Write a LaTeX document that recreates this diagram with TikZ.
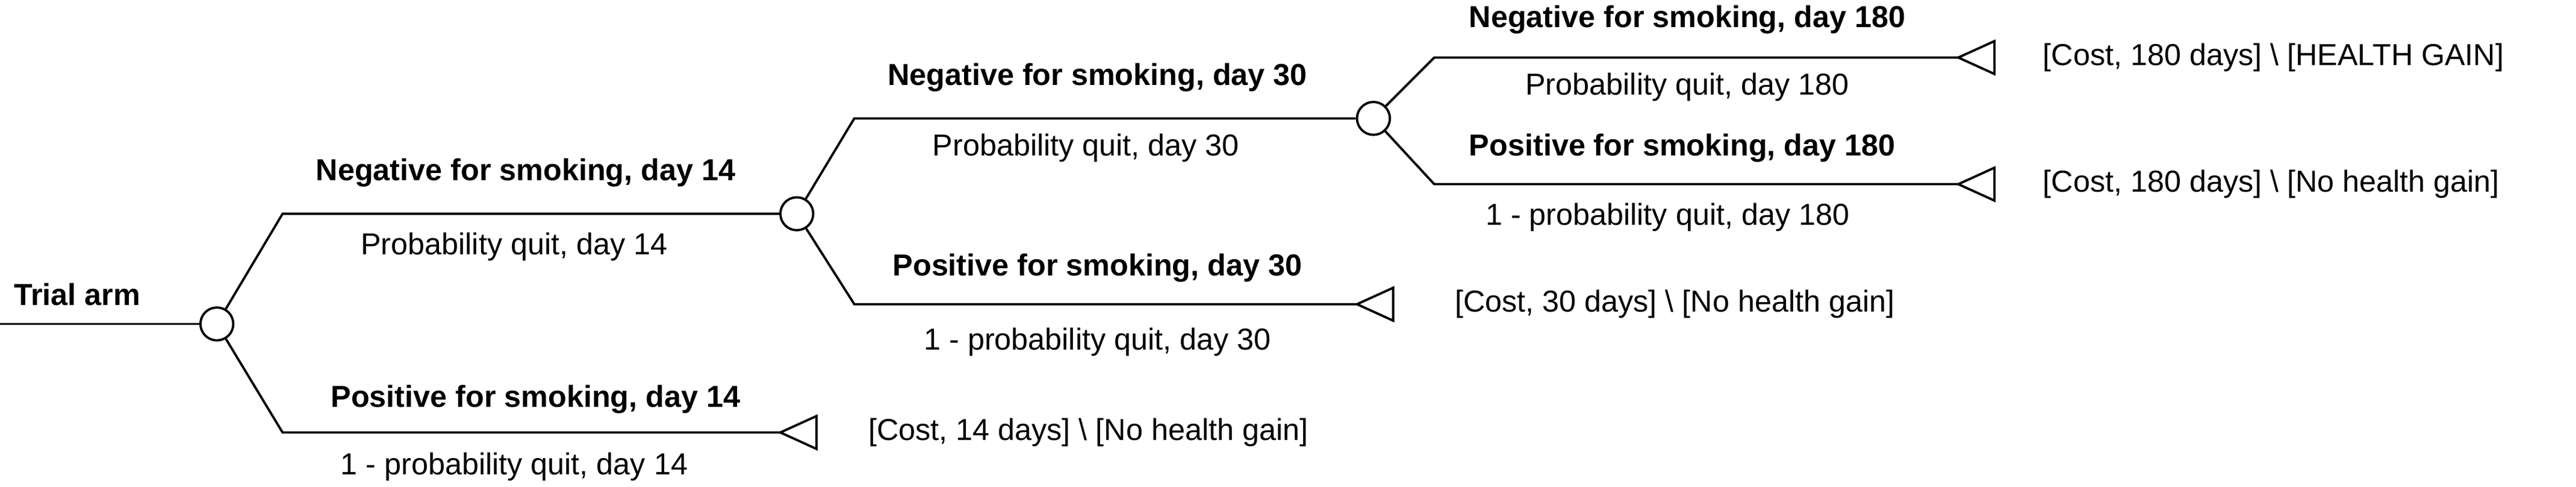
\documentclass[tikz,border=0pt]{standalone}
\usepackage{fontspec}
\setmainfont{Liberation Sans}
\tikzset{
  chance/.style={circle,draw,line width=0.8pt,minimum size=0.4cm,inner sep=0pt},
  lbl/.style={font=\fontsize{10.5}{12}\selectfont\bfseries},
  prob/.style={font=\fontsize{10.5}{12}\selectfont},
  payoff/.style={font=\fontsize{10.5}{12}\selectfont,anchor=west},
}
\newcommand{\term}[1]{\draw[line width=0.8pt] (#1) -- ++(22,-10) -- ++(0,20) -- cycle;}
\begin{document}
\begin{tikzpicture}[x=0.02cm,y=-0.02cm,line width=0.8pt]
  \useasboundingbox (0,0) rectangle (1568,296);
  \coordinate (root) at (0,197);
  \node[chance] (c1) at (132,197) {};
  \node[chance] (c2) at (485,130) {};
  \node[chance] (c3) at (836,72) {};
  \coordinate (k1) at (172,130);
  \coordinate (k2) at (172,263);
  \coordinate (t2) at (475,263);
  \coordinate (k3) at (520,72);
  \coordinate (k4) at (520,185);
  \coordinate (t4) at (826,185);
  \coordinate (k5) at (873,35);
  \coordinate (t5) at (1192,35);
  \coordinate (k6) at (873,112);
  \coordinate (t6) at (1192,112);

  \node[lbl,anchor=west] (arm) at (2,179) {Trial arm};
  \draw (root) -- (c1);
  \draw (c1) -- (k1) -- (c2);
  \draw (c1) -- (k2) -- (t2);
  \draw (c2) -- (k3) -- (c3);
  \draw (c2) -- (k4) -- (t4);
  \draw (c3) -- (k5) -- (t5);
  \draw (c3) -- (k6) -- (t6);
  \term{t2} \term{t4} \term{t5} \term{t6}

  \node[lbl] at (320,105) {Negative for smoking, day 14};
  \node[prob] at (313,150) {Probability quit, day 14};
  \node[lbl] at (326,243) {Positive for smoking, day 14};
  \node[prob] at (313,284) {1 - probability quit, day 14};
  \node[payoff] at (522,263) {[Cost, 14 days] \textbackslash\ [No health gain]};

  \node[lbl] at (668,47) {Negative for smoking, day 30};
  \node[prob] at (661,90) {Probability quit, day 30};
  \node[lbl] at (668,163) {Positive for smoking, day 30};
  \node[prob] at (668,208) {1 - probability quit, day 30};
  \node[payoff] at (879,185) {[Cost, 30 days] \textbackslash\ [No health gain]};

  \node[lbl] at (1027,12) {Negative for smoking, day 180};
  \node[prob] at (1027,53) {Probability quit, day 180};
  \node[lbl] at (1024,90) {Positive for smoking, day 180};
  \node[prob] at (1015,132) {1 - probability quit, day 180};
  \node[payoff] at (1237,35) {[Cost, 180 days] \textbackslash\ [HEALTH GAIN]};
  \node[payoff] at (1237,112) {[Cost, 180 days] \textbackslash\ [No health gain]};
\end{tikzpicture}
\end{document}
